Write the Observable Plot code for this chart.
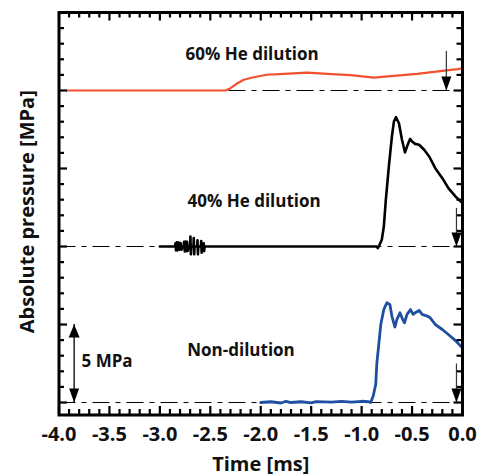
<!DOCTYPE html>
<html>
<head>
<meta charset="utf-8">
<script src="https://cdn.jsdelivr.net/npm/d3@7"></script>
<script src="https://cdn.jsdelivr.net/npm/@observablehq/plot@0.6"></script>
<style>
  html, body { margin: 0; padding: 0; background: #fff; }
  svg { font-family: "Open Sans", sans-serif; font-weight: bold; }
</style>
</head>
<body>
<div id="chart"></div>
<script>
// ---- tick labels ----
const xMajor = [-4.0, -3.5, -3.0, -2.5, -2.0, -1.5, -1.0, -0.5, 0.0];
const xTickLabels = ["-4.0", "-3.5", "-3.0", "-2.5", "-2.0", "-1.5", "-1.0", "-0.5", "0.0"];
const yMajor = [0, 5, 10, 15, 20, 25];

// ---- vertical offsets of the stacked traces [MPa] ----
const offsetNon = 0;
const offset40 = 10;
const offset60 = 20;

// ---- traces: [time ms, pressure MPa] ----
const red60 = [[-3.93,0],[-2.35,0],[-2.30,0.15],[-2.23,0.47],[-2.17,0.69],[-2.07,0.85],[-1.94,1.01],
  [-1.77,1.07],[-1.54,1.14],[-1.34,1.07],[-1.11,0.98],[-0.88,0.83],[-0.68,0.94],[-0.45,1.07],
  [-0.22,1.24],[-0.05,1.37],[0,1.42]];

const black40 = [[-3.0,0],[-2.85,0],[-2.845,0.2],[-2.84,-0.25],[-2.832,0.27],[-2.825,-0.25],[-2.815,0.25],
  [-2.805,-0.2],[-2.795,0.22],[-2.785,-0.2],[-2.776,0],[-2.766,0],[-2.76,0.3],[-2.753,-0.32],[-2.745,0.32],
  [-2.738,-0.3],[-2.73,0.3],[-2.723,-0.28],[-2.717,0],[-2.70,0],[-2.697,0.64],[-2.693,-0.5],[-2.689,0],
  [-2.667,0],[-2.664,0.55],[-2.660,-0.5],[-2.656,0],[-2.630,0],[-2.627,0.4],[-2.623,-0.5],[-2.619,0],
  [-2.593,0],[-2.590,0.35],[-2.586,-0.4],[-2.582,0],[-2.568,0],[-2.565,0.2],[-2.561,-0.3],[-2.557,0],
  [-0.85,0],[-0.84,-0.1],[-0.83,0],[-0.80,0.43],[-0.78,1.28],[-0.76,2.99],[-0.73,5.13],[-0.70,7.05],
  [-0.68,8.01],[-0.66,8.29],[-0.63,7.90],[-0.60,6.84],[-0.57,6.03],[-0.55,6.41],[-0.52,6.90],[-0.50,6.73],
  [-0.47,6.58],[-0.43,6.52],[-0.38,6.20],[-0.33,5.77],[-0.27,5.02],[-0.20,4.38],[-0.14,3.74],[-0.07,3.21],[0,2.78]];

const blueNon = [[-2.0,0],[-1.9,0.05],[-1.8,-0.03],[-1.75,0.08],[-1.7,0.0],[-1.6,0.05],[-1.5,-0.02],
  [-1.45,0.06],[-1.3,0.02],[-1.2,0.07],[-1.1,0.03],[-1.0,0.08],[-0.93,0.05],[-0.91,0],[-0.885,0.42],
  [-0.86,1.17],[-0.85,2.44],[-0.83,3.72],[-0.81,5.0],[-0.78,5.96],[-0.75,6.39],[-0.72,6.29],[-0.70,5.54],
  [-0.67,4.84],[-0.65,5.33],[-0.62,5.75],[-0.60,5.43],[-0.575,5.11],[-0.55,5.65],[-0.515,5.96],[-0.49,5.65],
  [-0.47,5.75],[-0.43,5.90],[-0.40,5.65],[-0.35,5.54],[-0.32,5.43],[-0.27,5.0],[-0.20,4.68],[-0.14,4.36],
  [-0.07,3.97],[0,3.5]];

// ---- annotations ----
const labelTexts = ["60% He dilution", "40% He dilution", "Non-dilution", "5 MPa"];
const labelT = [-2.746, -2.726, -2.729, -3.777];
const labelP = [21.97, 12.52, 3.01, 2.26];

const arrowT = [-0.16, -0.06, -0.06];
const arrowFrom = [22.5, 12.44, 2.47];
const arrowTo = [offset60, offset40, offsetNon];

const scaleBarT = -3.85;
const scaleBarFrom = 0;
const scaleBarTo = 5;

// ---- helpers ----
const headDown = {draw(c) { c.moveTo(0, 0); c.lineTo(-5, -14); c.lineTo(5, -14); c.closePath(); }};
const headUp = {draw(c) { c.moveTo(0, 0); c.lineTo(-5.5, 13); c.lineTo(5.5, 13); c.closePath(); }};

const W = 483, H = 475;
const mL = 58.5, mR = 21, mT = 12, mB = 60.5;
const plotH = H - mT - mB, plotW = W - mL - mR;

const xAll = d3.range(-40, 1).map(i => i / 10);
const xMinor = xAll.filter(v => Math.abs(v * 2 - Math.round(v * 2)) > 1e-6);
const yAll = d3.range(0, 26);
const yMinor = yAll.filter(v => v % 5 !== 0);

const minorLen = 5.5, majorLen = 8.5;

const shift = (arr, off) => arr.map(([t, v]) => ({t, v: v + off}));

const chart = Plot.plot({
  width: W, height: H,
  marginLeft: mL, marginRight: mR, marginTop: mT, marginBottom: mB,
  x: {domain: [-4, 0], axis: null},
  y: {domain: [-0.8, 25], axis: null},
  marks: [
    // dash-dot baselines
    Plot.ruleY([offsetNon, offset40, offset60], {stroke: "#000", strokeWidth: 1, strokeDasharray: "17,6,5,6"}),
    // traces
    Plot.line(shift(red60, offset60), {x: "t", y: "v", stroke: "#f2512f", strokeWidth: 2.2}),
    Plot.line(shift(black40, offset40), {x: "t", y: "v", stroke: "#000", strokeWidth: 2.6}),
    Plot.line(shift(blueNon, offsetNon), {x: "t", y: "v", stroke: "#1f4fa0", strokeWidth: 2.8}),
    // ticks (inward)
    Plot.tickX(xMinor, {x: d => d, insetTop: plotH - minorLen, stroke: "#000", strokeWidth: 2.2}),
    Plot.tickX(xMajor, {x: d => d, insetTop: plotH - majorLen, stroke: "#000", strokeWidth: 2.2}),
    Plot.tickX(xMinor, {x: d => d, insetBottom: plotH - minorLen, stroke: "#000", strokeWidth: 2.2}),
    Plot.tickX(xMajor, {x: d => d, insetBottom: plotH - majorLen, stroke: "#000", strokeWidth: 2.2}),
    Plot.tickY(yMinor, {y: d => d, insetRight: plotW - minorLen, stroke: "#000", strokeWidth: 2.2}),
    Plot.tickY(yMajor, {y: d => d, insetRight: plotW - majorLen, stroke: "#000", strokeWidth: 2.2}),
    Plot.tickY(yMinor, {y: d => d, insetLeft: plotW - minorLen, stroke: "#000", strokeWidth: 2.2}),
    Plot.tickY(yMajor, {y: d => d, insetLeft: plotW - majorLen, stroke: "#000", strokeWidth: 2.2}),
    Plot.frame({stroke: "#000", strokeWidth: 3}),
    // arrows to baselines
    Plot.ruleX(arrowT.map((t, i) => ({t, a: arrowFrom[i], b: arrowTo[i]})),
      {x: "t", y1: "a", y2: "b", stroke: "#333", strokeWidth: 1.2}),
    Plot.dot(arrowT.map((t, i) => ({t, b: arrowTo[i]})),
      {x: "t", y: "b", symbol: headDown, fill: "#000", stroke: "none", r: 5}),
    // 5 MPa scale bar
    Plot.ruleX([{t: scaleBarT, a: scaleBarFrom, b: scaleBarTo}], {x: "t", y1: "a", y2: "b", stroke: "#000", strokeWidth: 1.3}),
    Plot.dot([{t: scaleBarT, b: scaleBarFrom}], {x: "t", y: "b", symbol: headDown, fill: "#000", stroke: "none", r: 5}),
    Plot.dot([{t: scaleBarT, b: scaleBarTo}], {x: "t", y: "b", symbol: headUp, fill: "#000", stroke: "none", r: 5}),
    // annotation labels
    Plot.text(labelTexts.map((s, i) => ({s, t: labelT[i], p: labelP[i]})),
      {x: "t", y: "p", text: "s", textAnchor: "start", lineAnchor: "bottom", fontSize: 17, fontWeight: "bold", fill: "#111"}),
    // x tick labels
    Plot.text(xMajor, {x: d => d, text: (d, i) => xTickLabels[i], frameAnchor: "bottom", lineAnchor: "bottom",
      dy: 25.5, fontSize: 20, fontWeight: "bold", fill: "#111"}),
    // axis titles
    Plot.text(["Time [ms]"], {frameAnchor: "bottom", lineAnchor: "bottom", textAnchor: "middle", dy: 55.5,
      fontSize: 20, fontWeight: "bold", fill: "#111"}),
    Plot.text(["Absolute pressure [MPa]"], {frameAnchor: "left", rotate: -90, textAnchor: "middle", lineAnchor: "bottom",
      dx: -25.5, dy: -2, fontSize: 20, fontWeight: "bold", fill: "#111"})
  ]
});
document.getElementById("chart").appendChild(chart);
</script>
</body>
</html>
